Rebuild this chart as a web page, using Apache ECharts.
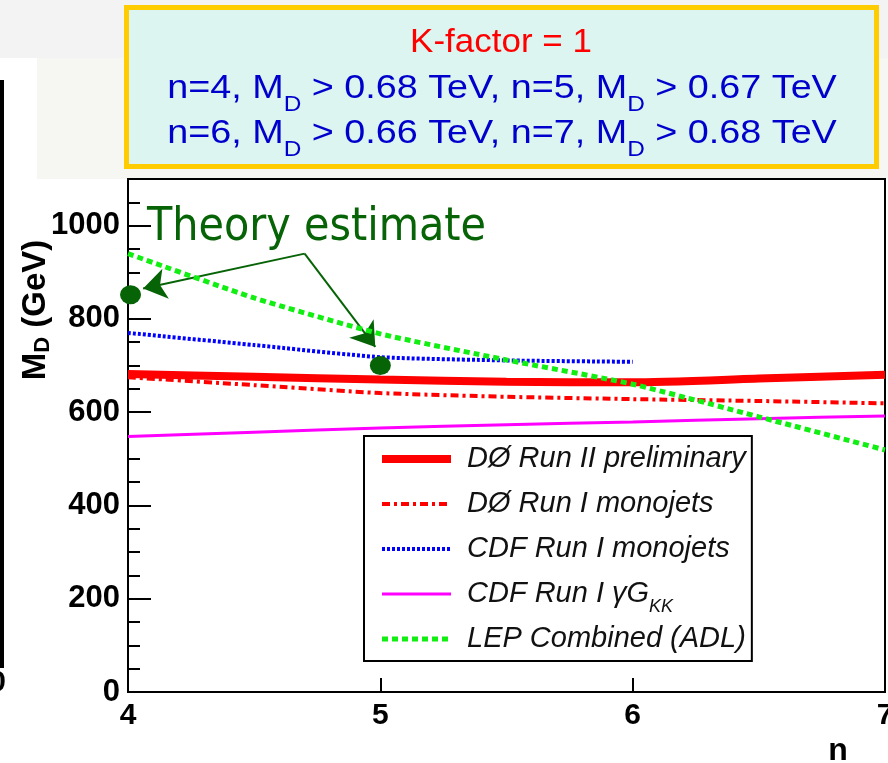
<!DOCTYPE html>
<html>
<head>
<meta charset="utf-8">
<script src="https://cdn.jsdelivr.net/npm/echarts@6/dist/echarts.min.js"></script>
<style>
  html, body { margin: 0; padding: 0; background: #ffffff; }
  #chart { width: 888px; height: 763px; }
</style>
</head>
<body>
<div id="chart"></div>
<script>
// Lower limits on the fundamental Planck scale M_D versus number of extra dimensions n
const nGrid = [4, 4.5, 5, 5.5, 6, 6.5, 7];
const nCdfMonojets = [4, 4.5, 5, 5.5, 6];
const d0RunII = [682, 676, 670, 665, 664, 672, 680];
const d0RunIMonojets = [675, 658, 641, 633, 628, 624, 619];
const cdfRunIMonojets = [770, 744, 718, 711, 708];
const cdfRunIGkk = [548, 557, 566, 573, 579, 586, 592];
const lepCombined = [940, 845, 768, 712, 660, 590, 519];

// Theory estimate points and the annotation arrows pointing at them
const theoryN = [4.01, 5];
const theoryMD = [852, 700];
const arrowStart = [4.70, 940];
const arrowEnds = [[4.06, 865], [4.98, 740]];

const seriesNames = [
  'DØ Run II preliminary',
  'DØ Run I monojets',
  'CDF Run I monojets',
  'CDF Run I γG_KK',
  'LEP Combined (ADL)'
];
const boxLines = [
  'K-factor = 1',
  'n=4, M_D > 0.68 TeV, n=5, M_D > 0.67 TeV',
  'n=6, M_D > 0.66 TeV, n=7, M_D > 0.68 TeV'
];
const yTitle = 'M_D (GeV)';
const xTitle = 'n';
const annotation = 'Theory estimate';

const FONT = 'Liberation Sans';

function pairs(xs, ys) {
  return xs.map(function (x, i) { return [x, ys[i]]; });
}
function subD(s) {
  return s.replace(/M_D/g, 'M{sub|D}');
}

const chart = echarts.init(document.getElementById('chart'), null, { renderer: 'canvas' });

const lineSeries = [
  { name: seriesNames[0], data: pairs(nGrid, d0RunII), color: '#ff0000', width: 8, type: 'solid' },
  { name: seriesNames[1], data: pairs(nGrid, d0RunIMonojets), color: '#ff0000', width: 4, type: [8, 4, 3, 4] },
  { name: seriesNames[2], data: pairs(nCdfMonojets, cdfRunIMonojets), color: '#0000ff', width: 4, type: [3, 2] },
  { name: seriesNames[3], data: pairs(nGrid, cdfRunIGkk), color: '#ff00ff', width: 3, type: 'solid' },
  { name: seriesNames[4], data: pairs(nGrid, lepCombined), color: '#11ee11', width: 5, type: [6, 4] }
].map(function (s, i) {
  return {
    type: 'line',
    name: s.name,
    data: s.data,
    symbol: 'none',
    showSymbol: false,
    smooth: 0.2,
    z: 3 + i,
    itemStyle: { color: s.color },
    lineStyle: { color: s.color, width: s.width, type: s.type, cap: 'butt' },
    emphasis: { disabled: true }
  };
});

const option = {
  backgroundColor: '#ffffff',
  animation: false,
  grid: {
    left: 128, right: 3, top: 179, bottom: 71,
    outerBoundsMode: 'none',
    containLabel: false,
    show: true, borderColor: '#000', borderWidth: 2, backgroundColor: 'transparent'
  },
  xAxis: {
    type: 'value', min: 4, max: 7, interval: 1,
    axisLine: { lineStyle: { color: '#000', width: 2 } },
    axisTick: { inside: true, length: 14, lineStyle: { color: '#000', width: 2 } },
    axisLabel: { fontFamily: FONT, fontWeight: 'bold', fontSize: 30, color: '#000', margin: 9, hideOverlap: false },
    splitLine: { show: false }
  },
  yAxis: [
    {
      type: 'value', min: 0, max: 1100, interval: 50,
      axisLine: { show: true, lineStyle: { color: '#000', width: 2 } },
      axisTick: { inside: true, length: 12, lineStyle: { color: '#000', width: 2 } },
      axisLabel: {
        fontFamily: FONT, fontWeight: 'bold', fontSize: 31, color: '#000', margin: 8,
        formatter: function (v) { return (v % 200 === 0 && v <= 1000) ? String(v) : ''; }
      },
      splitLine: { show: false }
    },
    {
      type: 'value', min: 0, max: 1100, interval: 200, position: 'left',
      axisLine: { show: false },
      axisTick: { inside: true, length: 23, lineStyle: { color: '#000', width: 2 } },
      axisLabel: { show: false },
      splitLine: { show: false }
    }
  ],
  legend: {
    data: seriesNames,
    selectedMode: false,
    orient: 'vertical',
    left: 364, top: 436,
    itemWidth: 69, itemHeight: 14, itemGap: 1,
    padding: [1, 6, 0, 14],
    backgroundColor: '#ffffff',
    borderColor: '#000', borderWidth: 2,
    itemStyle: { opacity: 0 },
    lineStyle: { width: 'inherit', type: 'inherit' },
    formatter: function (name) { return name.replace('_KK', '{sub|KK}'); },
    textStyle: {
      fontFamily: FONT, fontStyle: 'italic', fontSize: 29, color: '#111',
      lineHeight: 44, padding: [0, 0, 0, 11],
      rich: {
        sub: { fontFamily: FONT, fontStyle: 'italic', fontSize: 18, color: '#111', padding: [25, 0, 0, 0] }
      }
    }
  },
  series: lineSeries.concat([
    {
      type: 'scatter',
      name: 'Theory estimate',
      data: pairs(theoryN, theoryMD),
      symbol: 'circle',
      symbolSize: [21, 19],
      itemStyle: { color: '#066306', opacity: 1 },
      z: 12,
      emphasis: { disabled: true },
      markLine: {
        silent: true,
        symbol: ['none', 'arrow'],
        symbolSize: 23,
        label: { show: false },
        lineStyle: { color: '#066306', width: 2, type: 'solid', opacity: 1 },
        emphasis: { disabled: true },
        data: arrowEnds.map(function (e) {
          return [{ coord: arrowStart }, { coord: e }];
        })
      }
    }
  ]),
  graphic: [
    // page surroundings
    { type: 'rect', z: -5, shape: { x: 0, y: 0, width: 888, height: 58 }, style: { fill: '#f3f3f3' } },
    { type: 'rect', z: -5, shape: { x: 37, y: 58, width: 851, height: 121 }, style: { fill: '#f6f6f3' } },
    { type: 'rect', z: -4, shape: { x: 0, y: 80, width: 4, height: 588 }, style: { fill: '#000' } },
    {
      type: 'text', z: -4, x: 6, y: 683,
      style: { text: '0', fontFamily: FONT, fontWeight: 'bold', fontSize: 30, fill: '#000', textAlign: 'right', textVerticalAlign: 'middle' }
    },
    // limits box
    {
      type: 'rect', z: 20,
      shape: { x: 126.5, y: 7.5, width: 750, height: 159 },
      style: { fill: '#dcf5f0', stroke: '#ffcc00', lineWidth: 5 }
    },
    {
      type: 'text', z: 21, x: 501, y: 43, scaleX: 1.06,
      style: { text: boxLines[0], fontFamily: FONT, fontSize: 33, fill: '#ff0000', textAlign: 'center', textVerticalAlign: 'middle' }
    },
    {
      type: 'text', z: 21, x: 502, y: 89, scaleX: 1.11,
      style: {
        text: subD(boxLines[1]), fontFamily: FONT, fontSize: 34, fill: '#0000cc',
        textAlign: 'center', textVerticalAlign: 'middle',
        rich: { sub: { fontFamily: FONT, fontSize: 22, fill: '#0000cc', padding: [31, 0, 0, 0] } }
      }
    },
    {
      type: 'text', z: 21, x: 502, y: 134, scaleX: 1.11,
      style: {
        text: subD(boxLines[2]), fontFamily: FONT, fontSize: 34, fill: '#0000cc',
        textAlign: 'center', textVerticalAlign: 'middle',
        rich: { sub: { fontFamily: FONT, fontSize: 22, fill: '#0000cc', padding: [31, 0, 0, 0] } }
      }
    },
    // axis titles
    {
      type: 'text', z: 21, x: 36, y: 310, rotation: Math.PI / 2,
      style: {
        text: subD(yTitle), fontFamily: FONT, fontWeight: 'bold', fontSize: 33, fill: '#000',
        textAlign: 'center', textVerticalAlign: 'middle',
        rich: { sub: { fontFamily: FONT, fontWeight: 'bold', fontSize: 22, fill: '#000', padding: [13, 0, 0, 0] } }
      }
    },
    {
      type: 'text', z: 21, x: 838, y: 751,
      style: { text: xTitle, fontFamily: FONT, fontWeight: 'bold', fontSize: 32, fill: '#000', textAlign: 'center', textVerticalAlign: 'middle' }
    },
    // annotation
    {
      type: 'text', z: 21, x: 147, y: 228,
      style: { text: annotation, fontFamily: 'DejaVu Sans Condensed', fontSize: 46, fill: '#066306', textVerticalAlign: 'middle' }
    }
  ]
};

chart.setOption(option);
</script>
</body>
</html>
